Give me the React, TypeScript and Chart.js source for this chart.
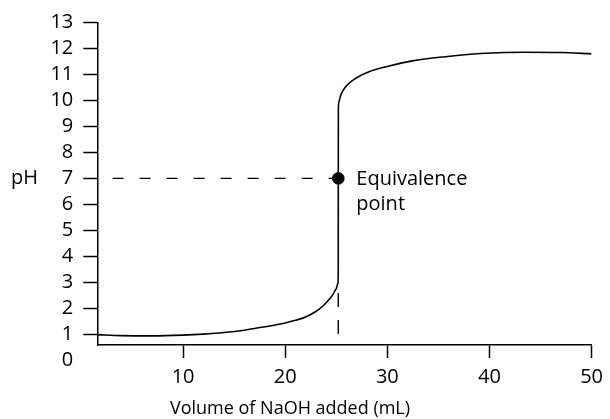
import React, { useEffect, useRef } from "react";
import { Chart, registerables } from "chart.js";

Chart.register(...registerables);

const X_MIN = 1.6;
const X_MAX = 50;
const Y_MIN = 0.58;
const Y_MAX = 13;
const xTicks = [10, 20, 30, 40, 50];
const yTicks = [0, 1, 2, 3, 4, 5, 6, 7, 8, 9, 10, 11, 12, 13];

const curveX = [1.6, 4, 7, 10, 12, 14, 16, 18, 20, 21, 22, 23, 23.8, 24.31, 24.7, 24.97, 25.17, 25.195, 25.2, 25.205, 25.24, 25.45, 25.94, 26.92, 28.2, 30.17, 32.44, 35.7, 39.6, 43.5, 47, 50];
const curveY = [0.98, 0.94, 0.93, 0.96, 1.0, 1.06, 1.15, 1.28, 1.43, 1.53, 1.66, 1.87, 2.12, 2.34, 2.54, 2.73, 2.97, 3.6, 7, 9.6, 9.92, 10.22, 10.54, 10.86, 11.11, 11.33, 11.53, 11.69, 11.82, 11.86, 11.85, 11.8];

const eqX = 25.2;
const eqY = 7;
const hDashX = [3.1, 25.2];
const hDashY = [7, 7];
const vDashX = [25.2, 25.2];
const vDashY = [2.58, 0.96];

const xTitle = "Volume of NaOH added (mL)";
const yTitle = "pH";
const eqLabel = ["Equivalence", "point"];

const FONT = '"Open Sans", "Noto Sans", sans-serif';

export default function App() {
  const ref = useRef<HTMLCanvasElement | null>(null);
  useEffect(() => {
    if (!ref.current) return;
    const toPts = (xs: number[], ys: number[]) => xs.map((x, i) => ({ x, y: ys[i] }));
    const textPlugin = {
      id: "texts",
      afterDraw(chart: any) {
        const ctx = chart.ctx;
        const xs = chart.scales.x;
        const ys = chart.scales.y;
        ctx.save();
        ctx.fillStyle = "#000";
        ctx.font = `20px ${FONT}`;
        ctx.textAlign = "left";
        ctx.textBaseline = "middle";
        ctx.fillText(yTitle, 11, ys.getPixelForValue(eqY));
        const px = xs.getPixelForValue(eqX) + 18;
        const py = ys.getPixelForValue(eqY);
        ctx.textBaseline = "alphabetic";
        ctx.fillText(eqLabel[0], px, py + 7);
        ctx.fillText(eqLabel[1], px, py + 32);
        ctx.font = `18px ${FONT}`;
        ctx.textAlign = "center";
        ctx.fillText(xTitle, 290, 414);
        ctx.restore();
      },
    };
    const chart = new Chart(ref.current, {
      type: "line",
      data: {
        datasets: [
          {
            data: toPts(curveX, curveY),
            borderColor: "#000",
            borderWidth: 1.6,
            pointRadius: 0,
            cubicInterpolationMode: "monotone",
            fill: false,
          },
          {
            data: toPts(hDashX, hDashY),
            borderColor: "#000",
            borderWidth: 1.3,
            borderDash: [11, 16],
            pointRadius: 0,
            tension: 0,
            fill: false,
          },
          {
            data: toPts(vDashX, vDashY),
            borderColor: "#000",
            borderWidth: 1.4,
            borderDash: [14, 13],
            pointRadius: 0,
            tension: 0,
            fill: false,
          },
          {
            data: [{ x: eqX, y: eqY }],
            borderColor: "#000",
            backgroundColor: "#000",
            pointRadius: 5.8,
            showLine: false,
          },
        ],
      } as any,
      options: {
        responsive: false,
        animation: false,
        events: [],
        layout: { padding: { top: 22.7, right: 16.7, left: 0, bottom: 0 } },
        plugins: { legend: { display: false }, tooltip: { enabled: false } },
        scales: {
          x: {
            type: "linear",
            min: X_MIN,
            max: X_MAX,
            afterBuildTicks: (s: any) => {
              s.ticks = xTicks.map((v) => ({ value: v }));
            },
            afterFit: (s: any) => {
              s.height = 74;
            },
            border: { display: true, color: "#000", width: 1.5 },
            grid: {
              drawOnChartArea: false,
              drawTicks: true,
              tickLength: 13,
              tickColor: "#000",
              tickWidth: 1.5,
            },
            ticks: {
              autoSkip: false,
              maxRotation: 0,
              padding: 7,
              color: "#000",
              font: { family: FONT, size: 20 },
            },
          },
          y: {
            type: "linear",
            min: Y_MIN,
            max: Y_MAX,
            afterBuildTicks: (s: any) => {
              s.ticks = yTicks.map((v) => ({ value: v }));
            },
            afterFit: (s: any) => {
              s.width = 97.3;
            },
            border: { display: true, color: "#000", width: 1.5 },
            grid: {
              drawOnChartArea: false,
              drawTicks: true,
              tickLength: 14,
              tickColor: (c: any) => (c.tick && c.tick.value === 0 ? "rgba(0,0,0,0)" : "#000"),
              tickWidth: 1.5,
            },
            ticks: {
              autoSkip: false,
              padding: 10,
              color: "#000",
              font: { family: FONT, size: 20 },
            },
          },
        },
      },
      plugins: [textPlugin],
    } as any);
    return () => chart.destroy();
  }, []);
  return (
    <div style={{ position: "fixed", left: 0, top: 0, width: 610, height: 419, background: "#fff" }}>
      <canvas ref={ref} width={610} height={419} style={{ display: "block" }} />
    </div>
  );
}
